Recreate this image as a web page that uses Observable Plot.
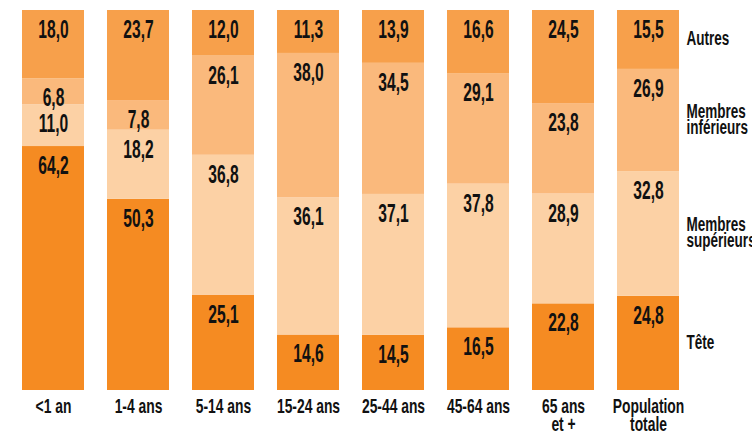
<!DOCTYPE html>
<html><head><meta charset="utf-8">
<script src="https://cdn.jsdelivr.net/npm/d3@7"></script>
<script src="https://cdn.jsdelivr.net/npm/@observablehq/plot@0.6"></script>
<style>body{margin:0;background:#fff;} svg{display:block}</style>
</head><body><div id="chart"></div>
<script>
const categories = ["<1 an","1-4 ans","5-14 ans","15-24 ans","25-44 ans","45-64 ans","65 ans\net +","Population\ntotale"];
const parts = ["Tête","Membres supérieurs","Membres inférieurs","Autres"];
const partLabels = ["Tête","Membres\nsupérieurs","Membres\ninférieurs","Autres"];
const tete       = [64.2, 50.3, 25.1, 14.6, 14.5, 16.5, 22.8, 24.8];
const superieurs = [11.0, 18.2, 36.8, 36.1, 37.1, 37.8, 28.9, 32.8];
const inferieurs = [ 6.8,  7.8, 26.1, 38.0, 34.5, 29.1, 23.8, 26.9];
const autres     = [18.0, 23.7, 12.0, 11.3, 13.9, 16.6, 24.5, 15.5];
const colors = ["#F58B22","#FCD1A5","#FAB97C","#F7A04B"];

const series = [tete, superieurs, inferieurs, autres];
const rows = categories.flatMap((c, i) => parts.map((p, j) => ({category: c, part: p, label: partLabels[j], value: series[j][i]})));
const fmt = v => v.toFixed(1).replace(".", ",");

const chart = Plot.plot({
  width: 752, height: 437,
  marginLeft: 10.5, marginRight: 61.5, marginTop: 10, marginBottom: 47,
  style: {fontFamily: "'Liberation Sans', Arial, sans-serif", background: "#fff"},
  x: {domain: categories, paddingInner: 0.27, paddingOuter: 0.135, axis: null},
  y: {domain: [0, 100], axis: null},
  color: {domain: parts, range: colors},
  marks: [
    Plot.barY(rows, {x: "category", y: "value", fill: "part", order: parts}),
    Plot.text(rows, Plot.stackY2({x: "category", y: "value", z: "part", order: parts, text: d => fmt(d.value),
      lineAnchor: "top", dy: 9, fontSize: 26, fontWeight: "bold", fill: "#111"})),
    Plot.text(rows.filter(d => d.category === categories[categories.length - 1]), Plot.stackY({x: "category", y: "value", z: "part", order: parts,
      text: "label", textAnchor: "start", dx: 38, fontSize: 20.5, fontWeight: "bold", lineHeight: 0.8, fill: "#111"})),
    Plot.text(categories, {x: d => d, text: d => d, frameAnchor: "bottom", lineAnchor: "top", dy: 10,
      fontSize: 21, fontWeight: "bold", lineHeight: 0.85, fill: "#111"})
  ]
});

chart.querySelectorAll("text").forEach(t => {
  const g = t.closest("[font-size]");
  const fs = g ? parseFloat(g.getAttribute("font-size")) : 0;
  const s = fs >= 25 ? 0.6 : 0.66;
  let tr = t.getAttribute("transform");
  if (!tr) {
    const x = parseFloat(t.getAttribute("x")) || 0, y = parseFloat(t.getAttribute("y")) || 0;
    t.removeAttribute("x"); t.removeAttribute("y");
    tr = `translate(${x},${y})`;
  }
  t.setAttribute("transform", tr + ` scale(${s},1)`);
});
document.getElementById("chart").appendChild(chart);
</script>
</body></html>
